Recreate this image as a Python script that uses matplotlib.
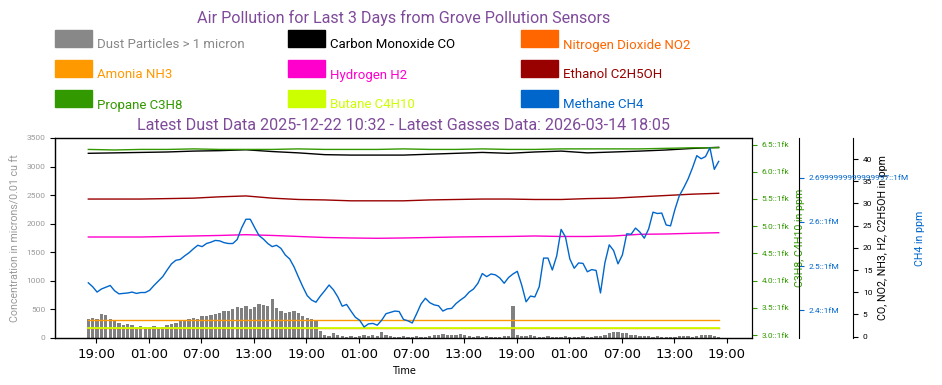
import matplotlib
matplotlib.use('Agg')
import matplotlib.pyplot as plt
import matplotlib.dates as mdates
from matplotlib.patches import Rectangle
import pandas as pd

W, H = 942, 385

# time bases
start = pd.Timestamp('2026-03-11 18:05')
half_hours = pd.date_range(start, periods=145, freq='30min')
three_hours = pd.date_range(start, periods=25, freq='3h')

# dust particles (microns/0.01 cu ft), every 30 min
dust = [330, 345, 340, 420, 410, 330, 300, 260, 230, 240,
        220, 200, 215, 190, 200, 215, 180, 200, 230, 250,
        260, 290, 320, 340, 350, 330, 390, 380, 400, 420,
        430, 470, 480, 500, 540, 520, 560, 500, 540, 600,
        580, 560, 690, 520, 470, 440, 450, 480, 430, 390,
        350, 340, 300, 120, 60, 40, 90, 50, 30, 25,
        40, 20, 30, 60, 35, 50, 30, 100, 60, 30,
        20, 25, 40, 20, 15, 30, 20, 25, 30, 60,
        50, 70, 55, 60, 45, 70, 60, 30, 25, 35,
        20, 30, 25, 20, 15, 30, 40, 560, 45, 35,
        40, 50, 30, 25, 20, 30, 15, 25, 20, 30,
        15, 25, 20, 30, 20, 25, 35, 30, 60, 80,
        100, 110, 90, 80, 60, 50, 40, 30, 35, 25,
        30, 20, 25, 15, 20, 35, 40, 30, 25, 40,
        60, 50, 45, 30, 20]

# methane CH4 (ppm, thousands), every 30 min
ch4 = [2.462, 2.453, 2.441, 2.448, 2.452, 2.456, 2.444, 2.437, 2.438, 2.439,
       2.441, 2.438, 2.440, 2.440, 2.445, 2.456, 2.466, 2.476, 2.491, 2.505,
       2.513, 2.515, 2.523, 2.530, 2.539, 2.547, 2.544, 2.551, 2.554, 2.558,
       2.557, 2.553, 2.551, 2.551, 2.560, 2.586, 2.606, 2.606, 2.587, 2.569,
       2.561, 2.551, 2.544, 2.547, 2.540, 2.525, 2.516, 2.498, 2.475, 2.453,
       2.433, 2.423, 2.418, 2.432, 2.444, 2.457, 2.446, 2.430, 2.409, 2.413,
       2.398, 2.384, 2.377, 2.362, 2.369, 2.370, 2.366, 2.377, 2.392, 2.395,
       2.398, 2.397, 2.379, 2.376, 2.371, 2.392, 2.414, 2.427, 2.417, 2.412,
       2.410, 2.398, 2.403, 2.404, 2.415, 2.423, 2.430, 2.441, 2.448, 2.461,
       2.483, 2.476, 2.482, 2.480, 2.473, 2.461, 2.474, 2.482, 2.488, 2.457,
       2.419, 2.432, 2.430, 2.453, 2.518, 2.518, 2.491, 2.523, 2.583, 2.566,
       2.516, 2.495, 2.507, 2.506, 2.487, 2.492, 2.490, 2.439, 2.507, 2.548,
       2.535, 2.505, 2.525, 2.573, 2.572, 2.586, 2.577, 2.563, 2.584, 2.622,
       2.619, 2.620, 2.593, 2.591, 2.628, 2.659, 2.677, 2.697, 2.722, 2.750,
       2.743, 2.748, 2.768, 2.719, 2.737]

# other gases, every 3 hours
co = [41.3, 41.4, 41.5, 41.6, 41.8, 41.9, 42.1, 41.7, 41.4, 41.0,
      40.9, 40.9, 40.9, 41.1, 41.3, 41.5, 41.3, 41.6, 41.8, 41.4,
      41.6, 41.8, 42.05, 42.4, 42.65]
no2 = [2.0] * 25
nh3 = [3.7] * 25
h2 = [22.45, 22.45, 22.45, 22.57, 22.68, 22.8, 22.97, 22.8, 22.57, 22.34,
      22.23, 22.16, 22.23, 22.34, 22.45, 22.52, 22.57, 22.68, 22.57, 22.57,
      22.68, 23.06, 23.13, 23.29, 23.42]
ethanol = [31.0, 31.0, 31.0, 31.1, 31.2, 31.5, 31.7, 31.2, 30.9, 30.8,
           30.6, 30.6, 30.6, 30.8, 30.9, 31.0, 31.0, 30.9, 30.9, 31.1,
           31.2, 31.5, 31.8, 32.1, 32.3]
propane = [6.41, 6.40, 6.41, 6.41, 6.42, 6.41, 6.41, 6.41, 6.42, 6.41,
           6.41, 6.41, 6.42, 6.41, 6.41, 6.42, 6.41, 6.41, 6.42, 6.42,
           6.42, 6.42, 6.43, 6.44, 6.44]
butane = [3.13] * 25

green_ticks = [3.0, 3.5, 4.0, 4.5, 5.0, 5.5, 6.0, 6.5]
green_labels = ['3.0::1fk', '3.5::1fk', '4.0::1fk', '4.5::1fk',
                '5.0::1fk', '5.5::1fk', '6.0::1fk', '6.5::1fk']
blue_ticks = [2.4, 2.5, 2.6, 2.7]
blue_labels = ['2.4::1fM', '2.5::1fM', '2.6::1fM', '2.6999999999999997::1fM']

legend_names = ['Dust Particles > 1 micron', 'Carbon Monoxide CO', 'Nitrogen Dioxide NO2',
                'Amonia NH3', 'Hydrogen H2', 'Ethanol C2H5OH',
                'Propane C3H8', 'Butane C4H10', 'Methane CH4']
legend_colors = ['#888888', '#000000', '#ff6600',
                 '#ff9900', '#ff00cc', '#990000',
                 '#339900', '#ccff00', '#0066cc']

GRAY, BLACK, NO2C, NH3C, H2C, ETHC, PROC, BUTC, CH4C = legend_colors
ROB = 'Roboto'
PURPLE = '#7f4a9a'

fig = plt.figure(figsize=(W / 100, H / 100), dpi=100)
ax = fig.add_axes([55 / W, 1 - 338 / H, 697 / W, 200 / H])

# dust bars
ax.bar(half_hours, dust, width=0.75 / 48, color='#808080', linewidth=0)
ax.set_ylim(0, 3500)
ax.set_yticks(range(0, 3501, 500))
ax.tick_params(axis='y', labelsize=6, labelcolor='#999999')
for t in ax.get_yticklabels():
    t.set_family(ROB)
ax.set_ylabel('Concentration in microns/0.01 cu ft', color='#999999',
              fontsize=7.7, family=ROB)
ax.set_xlabel('Time', fontsize=7)
ax.xaxis.set_major_locator(mdates.HourLocator(byhour=[1, 7, 13, 19]))
ax.xaxis.set_major_formatter(mdates.DateFormatter('%H:%M'))
ax.tick_params(axis='x', labelsize=9.5)

# gases: CO, NO2, NH3, H2, ethanol
axk = ax.twinx()
axk.spines['right'].set_position(('axes', 1.145))
axk.plot(three_hours, no2, color=NO2C, lw=1)
axk.plot(three_hours, nh3, color=NH3C, lw=1)
axk.plot(three_hours, h2, color=H2C, lw=1)
axk.plot(three_hours, ethanol, color=ETHC, lw=1)
axk.plot(three_hours, co, color=BLACK, lw=1)
axk.set_ylim(-0.3, 44.75)
axk.set_yticks(range(0, 41, 5))
axk.tick_params(axis='y', labelsize=6)
for t in axk.get_yticklabels():
    t.set_family(ROB)
axk.set_ylabel('CO, NO2, NH3, H2, C2H5OH in ppm', fontsize=7.7, family=ROB)

# propane, butane
axg = ax.twinx()
axg.plot(three_hours, propane, color=PROC, lw=1)
axg.plot(three_hours, butane, color=BUTC, lw=1.3)
axg.set_ylim(2.945, 6.62)
axg.set_yticks(green_ticks, green_labels)
axg.tick_params(axis='y', labelsize=6, colors=PROC)
for t in axg.get_yticklabels():
    t.set_family(ROB)
axg.set_ylabel('C3H8, C4H10 in ppm', color=PROC, fontsize=7.7, family=ROB)

# methane
axb = ax.twinx()
axb.spines['right'].set_position(('axes', 1.0674))
axb.plot(half_hours, ch4, color=CH4C, lw=1)
axb.set_ylim(2.337, 2.790)
axb.set_yticks(blue_ticks, blue_labels)
axb.tick_params(axis='y', labelsize=6, colors=CH4C)
for t in axb.get_yticklabels():
    t.set_family(ROB)
axb.set_ylabel('CH4 in ppm', color=CH4C, fontsize=7.7, family=ROB)
for a in (axk, axg, axb):
    a.spines['right'].set_color('black')

# titles
fig.text(403.5 / W, 1 - 22.7 / H, 'Air Pollution for Last 3 Days from Grove Pollution Sensors',
         ha='center', va='baseline', fontsize=11.6, color=PURPLE, family=ROB)
fig.text(403.5 / W, 1 - 130 / H,
         'Latest Dust Data 2025-12-22 10:32 - Latest Gasses Data: 2026-03-14 18:05',
         ha='center', va='baseline', fontsize=11.6, color=PURPLE, family=ROB)

# legend grid
for i, (name, col) in enumerate(zip(legend_names, legend_colors)):
    r, c = divmod(i, 3)
    x0 = 55 + 233 * c
    y0 = 30 + 30 * r
    fig.add_artist(Rectangle((x0 / W, 1 - (y0 + 17) / H), 37 / W, 17 / H,
                             transform=fig.transFigure, color=col))
    fig.text((x0 + 42) / W, 1 - (y0 + 18.5) / H, name, color=col,
             fontsize=9.5, family=ROB, va='baseline')

fig.savefig('out.png', dpi=100)
